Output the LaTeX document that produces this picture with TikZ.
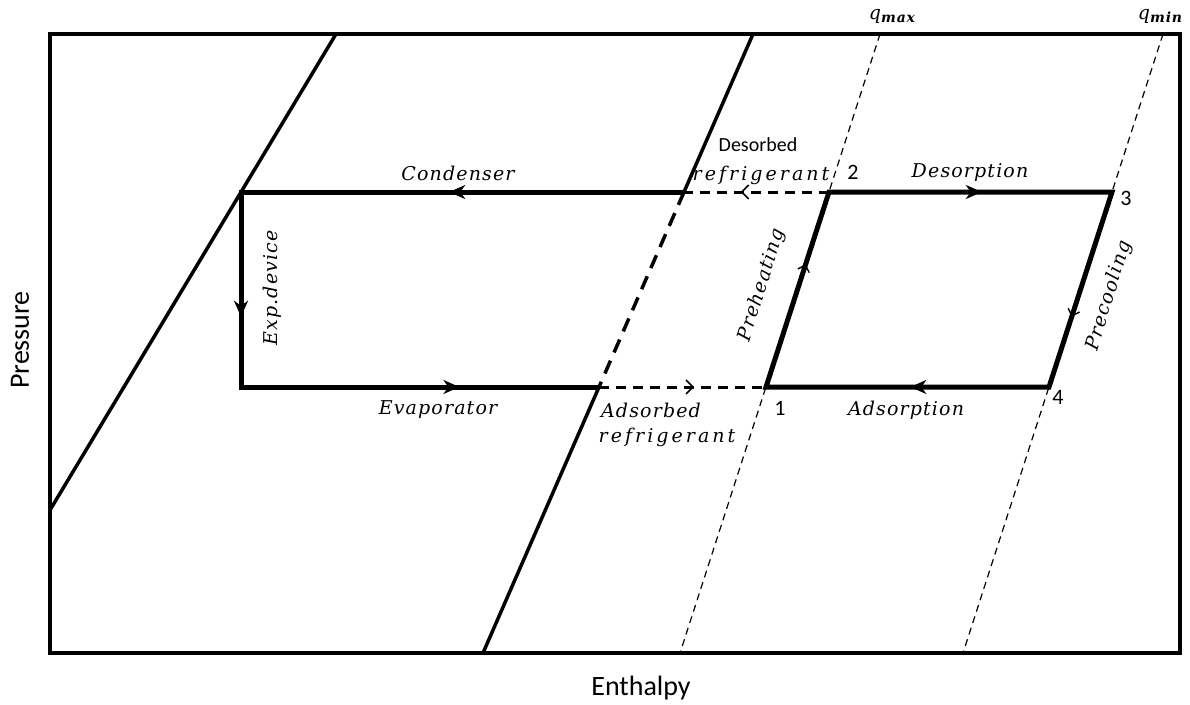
\documentclass[tikz,border=0pt]{standalone}
\usepackage{fontspec}
\setmainfont{Carlito}
\newfontfamily\labfont{DejaVu Serif}[LetterSpace=6]
\newfontfamily\widefont{DejaVu Serif}[LetterSpace=16]
\usetikzlibrary{arrows.meta,decorations.markings}
\begin{document}
\begin{tikzpicture}[x=1pt,y=-1pt,
  frame/.style={line width=4pt},
  satline/.style={line width=3.5pt},
  satdash/.style={line width=3.5pt,dash pattern=on 14pt off 9pt},
  cyc/.style={line width=5pt,line join=miter},
  dsh/.style={line width=3pt,dash pattern=on 10pt off 7pt},
  qline/.style={line width=1.2pt,dash pattern=on 7pt off 5pt},
  midarrow/.style={postaction={decorate},decoration={markings,mark=at position #1 with {\arrow{Stealth[length=16pt,width=14pt,inset=5pt]}}}},
  openarrow/.style={postaction={decorate},decoration={markings,mark=at position #1 with {\arrow{Straight Barb[length=7pt,width=14pt,line width=1.6pt]}}}},
  smallarrow/.style={postaction={decorate},decoration={markings,mark=at position #1 with {\arrow{Straight Barb[length=6pt,width=12pt,line width=1.4pt]}}}},
  lab/.style={font=\labfont\itshape\fontsize{19}{21}\selectfont,inner sep=0pt},
  widelab/.style={font=\widefont\itshape\fontsize{19}{21}\selectfont,inner sep=0pt},
  num/.style={font=\fontsize{22}{24}\selectfont,inner sep=0pt},
  axis/.style={font=\fontsize{28}{30}\selectfont,inner sep=0pt}
]
\useasboundingbox (0,0) rectangle (1190,704);
% key points
\coordinate (P1) at (766,387);
\coordinate (P2) at (829,192);
\coordinate (P3) at (1112,192);
\coordinate (P4) at (1049,387);
\coordinate (C) at (684,192);
\coordinate (E) at (599,387);
\coordinate (L) at (241,192);
\coordinate (Lb) at (241,387);
% line ends on the frame
\coordinate (liqA) at (50,510);
\coordinate (liqB) at (336,34);
\coordinate (vapT) at (753,34);
\coordinate (vapB) at (483,653);
\coordinate (qmaxT) at (880,34);
\coordinate (qmaxB) at (680,653);
\coordinate (qminT) at (1163,34);
\coordinate (qminB) at (963,653);
% frame
\draw[frame] (50,34) rectangle (1180,653);
% saturation lines
\draw[satline] (liqA) -- (liqB);
\draw[satline] (vapT) -- (C);
\draw[satdash] (C) -- (E);
\draw[satline] (E) -- (vapB);
% isosteres
\draw[qline] (qmaxT) -- (qmaxB);
\draw[qline] (qminT) -- (qminB);
% cycle
\draw[cyc] (C) -- (L) -- (Lb) -- (E);
\draw[cyc] (P1) -- (P2) -- (P3) -- (P4) -- cycle;
\draw[dsh] (E) -- (P1);
\draw[dsh] (P2) -- (C);
\path[cyc,midarrow=0.53] (C) -- (L);
\path[cyc,midarrow=0.64] (L) -- (Lb);
\path[cyc,midarrow=0.61] (Lb) -- (E);
\path[cyc,midarrow=0.54] (P2) -- (P3);
\path[cyc,midarrow=0.49] (P4) -- (P1);
\path[dsh,openarrow=0.57] (E) -- (P1);
\path[dsh,openarrow=0.61] (P2) -- (C);
\path[cyc,smallarrow=0.63] (P1) -- (P2);
\path[cyc,smallarrow=0.64] (P3) -- (P4);
% labels
\node[lab] (tcond) at (458,173) {Condenser};
\node[lab] (tevap) at (438,410) {Evaporator};
\node[lab,rotate=90] (texp) at (272,288) {Exp.device};
\node[font=\fontsize{20}{22}\selectfont,inner sep=0pt] (tdes1) at (758,145) {Desorbed};
\node[widelab] (tdes2) at (761,175) {refrigerant};
\node[lab] (tads1) at (651,410) {Adsorbed};
\node[widelab] (tads2) at (667,437) {refrigerant};
\node[lab] (tdesorp) at (970,172) {Desorption};
\node[lab] (tadsorp) at (906,410) {Adsorption};
\node[lab,rotate=72.6] (tpre) at (762,285) {Preheating};
\node[lab,rotate=72.9] (tcool) at (1109,296) {Precooling};
\node[num] (n1) at (780,408) {1};
\node[num] (n2) at (853,172) {2};
\node[num] (n3) at (1126,198) {3};
\node[num] (n4) at (1058,397) {4};
\node[lab] (qmax) at (892,16) {q\raisebox{-3pt}{\fontsize{14}{14}\selectfont\bfseries max}};
\node[lab] (qmin) at (1160,16) {q\raisebox{-3pt}{\fontsize{14}{14}\selectfont\bfseries min}};
\node[axis,rotate=90] (tpress) at (20,340) {Pressure};
\node[axis] (tenth) at (641,688) {Enthalpy};
\end{tikzpicture}
\end{document}
